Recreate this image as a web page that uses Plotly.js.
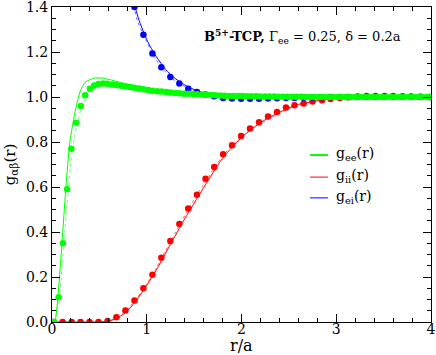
<!DOCTYPE html>
<html>
<head>
<meta charset="utf-8">
<script src="https://cdn.plot.ly/plotly-3.0.1.min.js"></script>
<style>html,body{margin:0;padding:0;background:#fff;}#chart{width:436px;height:355px;}</style>
</head>
<body>
<div id="chart"></div>
<script>
// ---- data ----
// g_ee: simulation points (dots)
var eeDotsX = [0.02,0.07,0.115,0.16,0.205,0.255,0.305,0.35,0.40,0.445,0.49,0.54,0.585,0.635,0.68,0.73,0.775,0.825,0.87,0.92,0.965,1.015,1.06,1.11,1.155,1.205,1.25,1.30,1.345,1.395,1.44,1.49,1.535,1.585,1.63,1.68,1.725,1.775,1.82,1.87,1.915,1.965,2.01,2.06,2.105,2.155,2.20,2.25,2.295,2.345,2.39,2.44,2.485,2.535,2.58,2.63,2.675,2.725,2.77,2.82,2.865,2.915,2.96,3.01,3.055,3.105,3.15,3.20,3.245,3.295,3.34,3.39,3.435,3.485,3.53,3.58,3.625,3.675,3.72,3.77,3.815,3.865,3.91,3.96,4.0];
var eeDotsY = [0.0,0.11,0.35,0.59,0.77,0.885,0.96,1.008,1.037,1.051,1.058,1.06,1.059,1.056,1.053,1.05,1.047,1.044,1.041,1.038,1.034,1.031,1.028,1.026,1.024,1.022,1.02,1.018,1.017,1.015,1.014,1.013,1.012,1.011,1.01,1.009,1.008,1.007,1.006,1.005,1.005,1.004,1.004,1.003,1.003,1.003,1.002,1.002,1.002,1.002,1.001,1.001,1.001,1.001,1.001,1.001,1.0,1.0,1.0,1.0,1.0,1.0,1.0,1.0,1.0,1.0,1.0,1.0,1.0,1.0,1.0,1.0,1.0,1.0,1.0,1.0,1.0,1.0,1.0,1.0,1.0,1.0,1.0,1.0,1.0];
// g_ee: solid theory curve
var eeLineX = [0.035,0.06,0.09,0.12,0.147,0.186,0.228,0.263,0.298,0.35,0.44,0.53,0.63,0.75,0.9,1.1,1.4,1.8,2.3,3.0,4.0];
var eeLineY = [0.0,0.10,0.26,0.44,0.60,0.79,0.90,0.97,1.025,1.065,1.083,1.084,1.075,1.062,1.047,1.03,1.016,1.007,1.002,1.0,1.0];
// g_ee: dotted curve
var eeDotX = [0.03,0.08,0.12,0.17,0.21,0.26,0.31,0.36,0.42,0.5,0.6,0.8,1.0,1.3,1.7,2.2,3.0,4.0];
var eeDotY = [0.0,0.12,0.33,0.58,0.75,0.87,0.95,1.0,1.035,1.052,1.056,1.046,1.033,1.019,1.009,1.003,1.0,1.0];

// g_ii
var iiDotsX = [0.017,0.112,0.207,0.301,0.396,0.491,0.586,0.68,0.775,0.87,0.965,1.06,1.154,1.249,1.344,1.438,1.53,1.62,1.712,1.806,1.9,1.996,2.09,2.185,2.28,2.375,2.47,2.56,2.656,2.75,2.85,2.94,3.04,3.13,3.225,3.32,3.415,3.51,3.60,3.70,3.79,3.89,3.985];
var iiDotsY = [0,0,0,0,0,0,0.004,0.021,0.051,0.096,0.15,0.21,0.286,0.36,0.436,0.504,0.566,0.637,0.689,0.745,0.785,0.827,0.86,0.888,0.913,0.933,0.953,0.963,0.971,0.98,0.985,0.991,0.995,0.999,1.002,1.004,1.005,1.005,1.004,1.003,1.002,1.001,1.0];
var iiLineX = [0.0,0.5,0.6,0.7,0.8,0.9,1.0,1.1,1.2,1.3,1.4,1.5,1.6,1.7,1.8,1.9,2.0,2.2,2.4,2.6,2.8,3.0,3.3,3.6,4.0];
var iiLineY = [0.0,0.0,0.004,0.02,0.052,0.102,0.163,0.23,0.307,0.383,0.458,0.528,0.597,0.664,0.728,0.776,0.82,0.886,0.932,0.967,0.983,0.994,1.003,1.005,1.0];
var iiDotX = [0.0,0.5,0.6,0.7,0.8,0.9,1.0,1.1,1.2,1.3,1.4,1.5,1.6,1.8,2.0,2.3,2.6,3.0,3.5,4.0];
var iiDotY = [0.0,0.0,0.006,0.023,0.058,0.108,0.17,0.24,0.318,0.395,0.472,0.545,0.612,0.737,0.825,0.905,0.965,0.994,1.005,1.0];

// g_ei
var eiDotsX = [0.87,0.965,1.06,1.154,1.249,1.344,1.438,1.53,1.62,1.712,1.806,1.9,1.996,2.09,2.185,2.28,2.375,2.47,2.56,2.656,2.75,2.85,2.94,3.04,3.13,3.225,3.32,3.415,3.51,3.60,3.70,3.79,3.89,3.985];
var eiDotsY = [1.4,1.277,1.193,1.132,1.089,1.06,1.037,1.022,1.011,1.003,0.996,0.993,0.992,0.992,0.992,0.993,0.994,0.995,0.996,0.997,0.998,0.999,1.0,1.0,1.0,1.0,1.0,1.0,1.0,1.0,1.0,1.0,1.0,1.0];
var eiLineX = [0.8,0.877,0.92,0.97,1.0,1.05,1.1,1.15,1.2,1.3,1.4,1.5,1.6,1.7,1.8,1.9,2.0,2.2,2.5,3.0,4.0];
var eiLineY = [1.52,1.40,1.34,1.285,1.255,1.215,1.18,1.15,1.122,1.082,1.054,1.033,1.018,1.008,1.001,0.997,0.995,0.995,0.997,1.0,1.0];
var eiDotLX = [0.8,0.86,0.9,0.95,1.0,1.1,1.2,1.3,1.4,1.5,1.6,1.7,1.8,2.0,2.3,2.7,3.0,4.0];
var eiDotLY = [1.51,1.41,1.34,1.29,1.245,1.165,1.11,1.072,1.046,1.027,1.013,1.004,0.997,0.993,0.993,0.997,1.0,1.0];

var legendNames = ['g<sub>ee</sub>(r)', 'g<sub>ii</sub>(r)', 'g<sub>ei</sub>(r)'];
var colGreen = '#00ff00', colRed = '#ff0000', colBlue = '#0000ff';

function line(x, y, c, dash, w, op) {
  return {x: x, y: y, mode: 'lines', type: 'scatter', showlegend: false, hoverinfo: 'skip',
          line: {color: c, width: w, dash: dash, shape: 'spline', smoothing: 0.8}, opacity: op};
}
function dots(x, y, c) {
  return {x: x, y: y, mode: 'markers', type: 'scatter', showlegend: false,
          marker: {color: c, size: 6.5}};
}
var traces = [
  line(iiDotX, iiDotY, colRed, 'dot', 1, 0.6),
  line(iiLineX, iiLineY, colRed, 'solid', 1, 1),
  dots(iiDotsX, iiDotsY, colRed),
  line(eiDotLX, eiDotLY, colBlue, 'dot', 1, 0.6),
  line(eiLineX, eiLineY, colBlue, 'solid', 1, 1),
  dots(eiDotsX, eiDotsY, colBlue),
  line(eeDotX, eeDotY, colGreen, 'dot', 1, 0.6),
  line(eeLineX, eeLineY, colGreen, 'solid', 1, 1),
  dots(eeDotsX, eeDotsY, colGreen)
];

var serif = 'DejaVu Serif';
var legendCols = [colGreen, colRed, colBlue];
var legendY = [0.530, 0.460, 0.394];
var shapes = [], annotations = [];
for (var i = 0; i < 3; i++) {
  shapes.push({type: 'line', xref: 'paper', yref: 'paper', x0: 0.681, x1: 0.728, y0: legendY[i], y1: legendY[i],
               line: {color: legendCols[i], width: i === 0 ? 2 : 1}});
  annotations.push({xref: 'paper', yref: 'paper', x: 0.745, y: legendY[i] + 0.004, xanchor: 'left', yanchor: 'middle',
                    text: legendNames[i], showarrow: false, font: {family: serif, size: 14, color: '#000'}});
}
annotations.push({xref: 'paper', yref: 'paper', x: 0.397, y: 0.905, xanchor: 'left', yanchor: 'middle', showarrow: false,
  text: '<b>B<sup>5+</sup>-TCP,</b> Γ<sub>ee</sub> = 0.25, δ = 0.2a', font: {family: serif, size: 13, color: '#000'}});
annotations.push({xref: 'paper', yref: 'paper', x: 0.5, y: -0.075, xanchor: 'center', yanchor: 'middle', showarrow: false,
  text: 'r/a', font: {family: serif, size: 16, color: '#000'}});

var axisCommon = {
  showline: true, linecolor: '#000', linewidth: 1, mirror: 'ticks', ticks: 'inside', ticklen: 8, tickwidth: 1,
  tickcolor: '#000', showgrid: false, zeroline: false, ticklabeloverflow: 'allow',
  tickfont: {family: serif, size: 14, color: '#000'}
};
var layout = {
  width: 436, height: 355, margin: {l: 52, r: 5, t: 7, b: 33},
  paper_bgcolor: '#fff', plot_bgcolor: '#fff', showlegend: false,
  font: {family: serif, size: 14, color: '#000'},
  xaxis: Object.assign({}, axisCommon, {range: [0, 4], dtick: 1, tick0: 0, ticklabelstandoff: -6,
    minor: {dtick: 0.2, ticks: 'inside', ticklen: 4, tickcolor: '#000', showgrid: false}}),
  yaxis: Object.assign({}, axisCommon, {range: [0, 1.4], dtick: 0.2, tick0: 0, tickformat: '.1f',
    minor: {dtick: 0.05, ticks: 'inside', ticklen: 4, tickcolor: '#000', showgrid: false},
    title: {text: 'g<sub>αβ</sub>(r)', font: {family: serif, size: 15, color: '#000'}, standoff: 6}}),
  shapes: shapes, annotations: annotations
};
Plotly.newPlot('chart', traces, layout, {staticPlot: true});
</script>
</body>
</html>
